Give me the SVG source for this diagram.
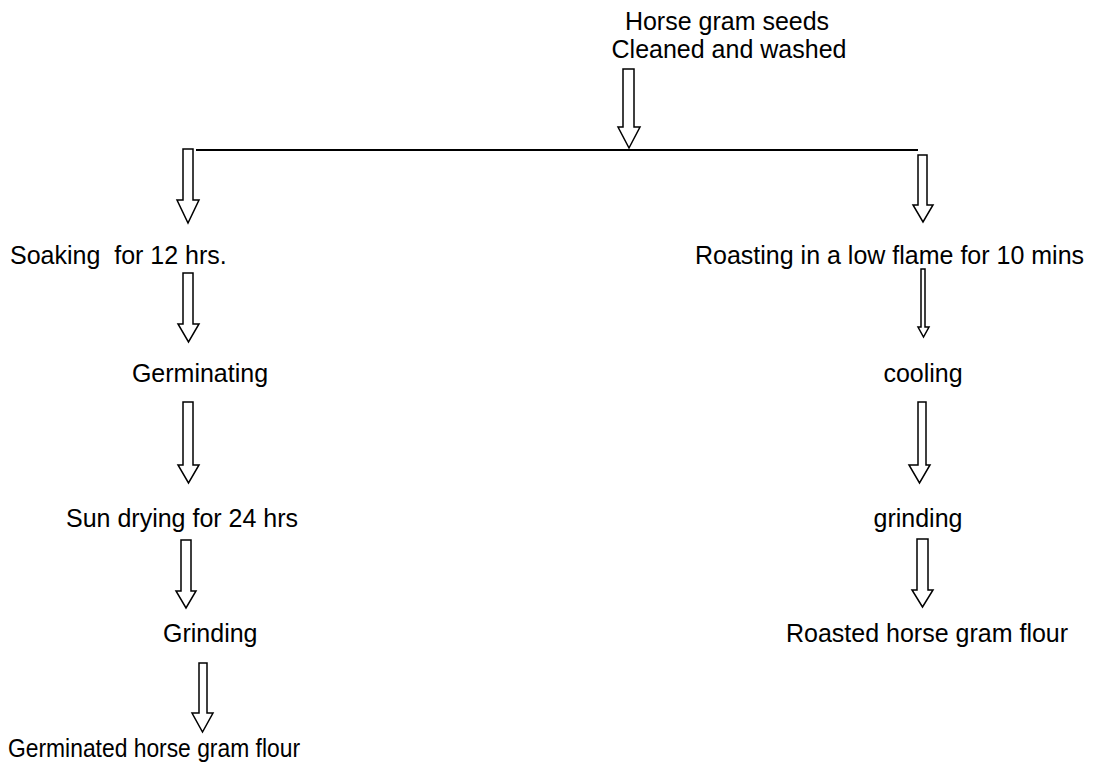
<svg xmlns="http://www.w3.org/2000/svg" width="1093" height="763" viewBox="0 0 1093 763">
<style>
text{font-family:"Liberation Sans",Arial,sans-serif;font-size:25px;fill:#000}
.c{text-anchor:middle}
.arr{fill:#fff;stroke:#000;stroke-width:1.5;stroke-linejoin:miter}
.ln{stroke:#000;stroke-width:2;fill:none}
</style>
<rect width="1093" height="763" fill="#fff"/>
<g id="connectors">
<line class="ln" x1="196" y1="150" x2="918" y2="150"/>
<path id="a0" class="arr" d="M623,69 H634 V127 H640 L629,148 L618,127 H623 Z"/>
<path id="a1" class="arr" d="M183,149 H193 V200 H199 L188,223 L177,200 H183 Z"/>
<path id="a2" class="arr" d="M918,155 H927 V205 H933 L923,222 L913,205 H918 Z"/>
<path id="l1" class="arr" d="M183,273 H193 V324 H199 L188.5,342 L178,324 H183 Z"/>
<path id="l2" class="arr" d="M183,402 H193 V465 H199 L188.5,483 L178,465 H183 Z"/>
<path id="l3" class="arr" d="M181,540 H191 V591 H196 L186,608 L176,591 H181 Z"/>
<path id="l4" class="arr" d="M199,663 H207 V713 H213 L202.5,732 L192,713 H199 Z"/>
<path id="r1" class="arr" d="M921,269 H925 V327 H929 L923.5,337 L918,327 H921 Z"/>
<path id="r2" class="arr" d="M918,402 H926 V465 H930 L919.5,483 L909,465 H918 Z"/>
<path id="r3" class="arr" d="M917,539 H928 V590 H933 L922.5,607 L912,590 H917 Z"/>
</g>
<g id="n-start">
<text class="c" x="727" y="30">Horse gram seeds</text>
<text class="c" x="729" y="58">Cleaned and washed</text>
</g>
<g id="n-soak"><text x="10" y="264" xml:space="preserve">Soaking  for 12 hrs.</text></g>
<g id="n-roast"><text x="695" y="264">Roasting in a low flame for 10 mins</text></g>
<g id="n-germ"><text class="c" x="200" y="382">Germinating</text></g>
<g id="n-cool"><text class="c" x="923" y="382">cooling</text></g>
<g id="n-sundry"><text x="66" y="527">Sun drying for 24 hrs</text></g>
<g id="n-grind-r"><text class="c" x="918" y="527">grinding</text></g>
<g id="n-grind-l"><text x="163" y="642">Grinding</text></g>
<g id="n-roasted-flour"><text x="786" y="642">Roasted horse gram flour</text></g>
<g id="n-germ-flour"><text x="8" y="757" textLength="292" lengthAdjust="spacingAndGlyphs">Germinated horse gram flour</text></g>
</svg>
